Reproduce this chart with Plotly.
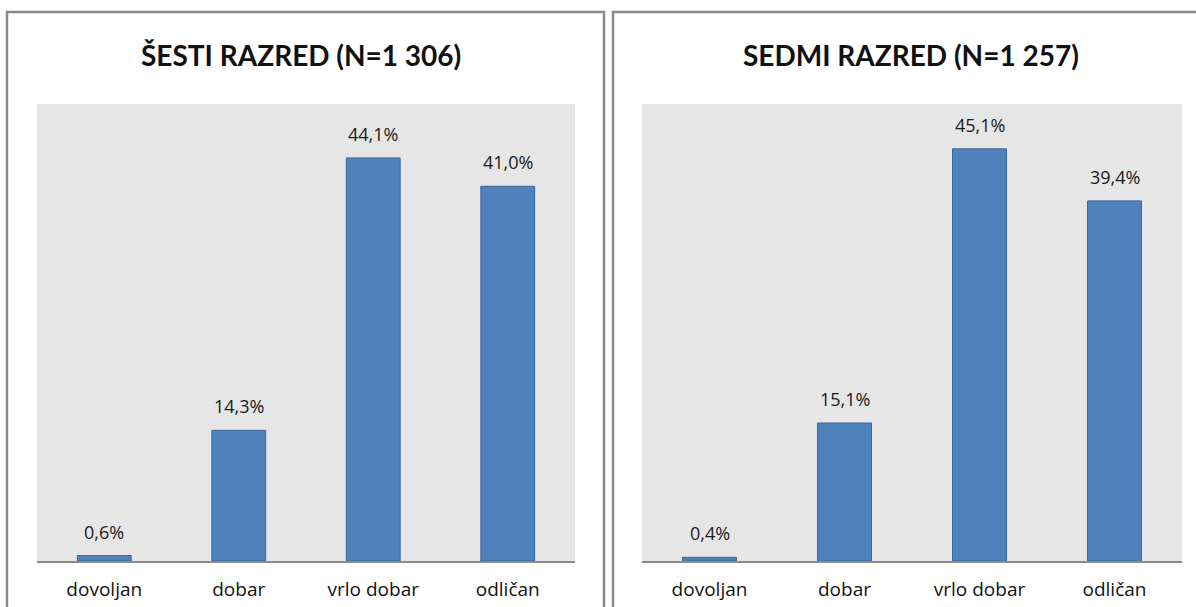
import plotly.graph_objects as go

categories = ["dovoljan", "dobar", "vrlo dobar", "odličan"]
sesti_values = [0.6, 14.3, 44.1, 41.0]
sedmi_values = [0.4, 15.1, 45.1, 39.4]
titles = ["ŠESTI RAZRED (N=1 306)", "SEDMI RAZRED (N=1 257)"]

TITLE_FONT = "Lato, sans-serif"
TEXT_FONT = "'Open Sans', sans-serif"
BAR = "#4f81bd"
BAR_EDGE = "#3b679c"
W, H = 1196, 607

fig = go.Figure()

panels = [
    dict(values=sesti_values, xdom=[37 / W, 575 / W], box=[7, 604], tx=301),
    dict(values=sedmi_values, xdom=[642 / W, 1182 / W], box=[613, 1210], tx=911),
]
ydom = [(H - 561) / H, (H - 104) / H]

for i, p in enumerate(panels):
    sfx = "" if i == 0 else "2"
    xa, ya = "x" + sfx, "y" + sfx
    fig.add_trace(go.Bar(
        x=categories, y=p["values"], xaxis=xa, yaxis=ya,
        width=0.4,
        marker=dict(color=BAR, line=dict(color=BAR_EDGE, width=1)),
        showlegend=False, hoverinfo="skip",
    ))
    # value labels above each bar
    for cat, v in zip(categories, p["values"]):
        fig.add_annotation(
            x=cat, y=v, xref=xa, yref=ya, showarrow=False,
            text=f"{v:.1f}%".replace(".", ","),
            yanchor="middle", yshift=24,
            font=dict(family=TEXT_FONT, size=18, color="#1a1a1a"),
        )
    fig.layout["xaxis" + sfx] = dict(
        domain=p["xdom"], anchor=ya, showgrid=False, ticks="",
        showline=True, linecolor="#8c8c8c", linewidth=2,
        ticklabelstandoff=10,
        tickfont=dict(family=TEXT_FONT, size=19, color="#111"), fixedrange=True,
    )
    fig.layout["yaxis" + sfx] = dict(
        domain=ydom, anchor=xa, range=[0, 50], showgrid=False,
        showticklabels=False, zeroline=False, showline=False, fixedrange=True,
    )
    # panel frame
    fig.add_shape(type="rect", xref="paper", yref="paper",
                  x0=p["box"][0] / W, x1=p["box"][1] / W,
                  y0=(H - 12) / H, y1=-0.05,
                  line=dict(color="#8a8a8a", width=2.5), layer="below")
    fig.add_annotation(text="<b>" + titles[i] + "</b>", xref="paper", yref="paper",
                       x=p["tx"] / W, y=(H - 55) / H, showarrow=False,
                       xanchor="center", yanchor="middle",
                       font=dict(family=TITLE_FONT, size=28, color="#111"))

fig.update_layout(
    width=W, height=H, margin=dict(l=0, r=0, t=0, b=0),
    paper_bgcolor="white", plot_bgcolor="#e6e6e6",
    bargap=0.6,
)

fig.write_html("out.html", config={"displayModeBar": False})
